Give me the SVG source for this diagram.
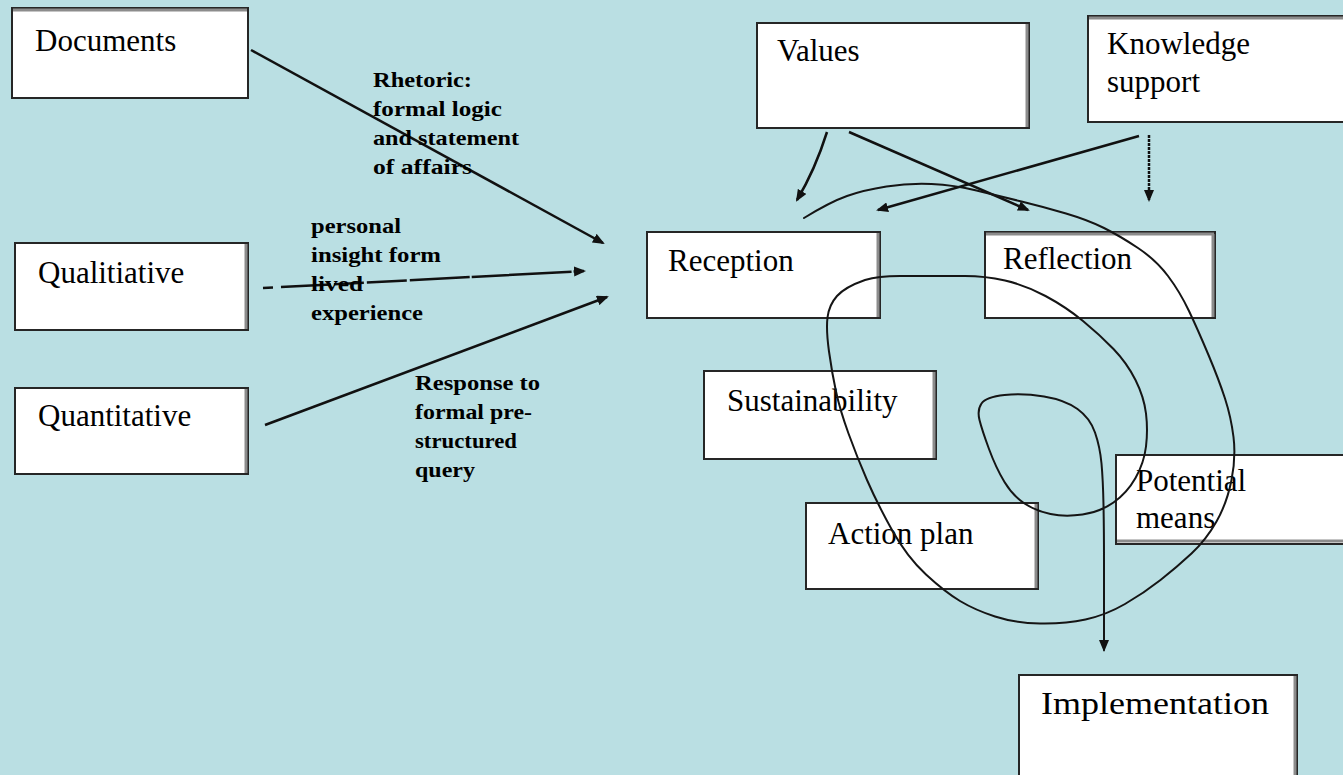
<svg xmlns="http://www.w3.org/2000/svg" width="1343" height="775" viewBox="0 0 1343 775">
  <style>
    .box { fill: #ffffff; stroke: #262626; stroke-width: 2; }
    .shade { stroke: #8c8c8c; stroke-width: 3; fill: none; }
    .name { font-family: "Liberation Serif", "Times New Roman", serif; font-size: 31px; fill: #000; }
    .note { font-family: "Liberation Serif", "Times New Roman", serif; font-size: 22px; font-weight: bold; fill: #000; }
    .arrow { stroke: #111; stroke-width: 2.5; fill: none; marker-end: url(#head); }
    .loop { stroke: #151515; stroke-width: 2; fill: none; stroke-linejoin: round; stroke-linecap: round; }
  </style>
  <defs>
    <marker id="head" viewBox="0 0 12 10" refX="10" refY="5" markerWidth="12" markerHeight="10" markerUnits="userSpaceOnUse" orient="auto">
      <path d="M0,0 L12,5 L0,10 Z" fill="#111"/>
    </marker>
  </defs>

  <rect width="1343" height="775" fill="#badfe3"/>

  <!-- input sources -->
  <g id="documents">
    <rect class="box" x="12" y="8" width="236" height="90"/>
    <line class="shade" x1="13" y1="10" x2="247" y2="10"/>
    <text class="name" x="35" y="51">Documents</text>
  </g>
  <g id="qualitiative">
    <rect class="box" x="15" y="243" width="233" height="87"/>
    <line class="shade" x1="246" y1="244" x2="246" y2="329"/>
    <text class="name" x="38" y="283">Qualitiative</text>
  </g>
  <g id="quantitative">
    <rect class="box" x="15" y="388" width="233" height="86"/>
    <line class="shade" x1="246" y1="389" x2="246" y2="473"/>
    <text class="name" x="38" y="426">Quantitative</text>
  </g>

  <!-- process stages -->
  <g id="values">
    <rect class="box" x="757" y="23" width="272" height="105"/>
    <line class="shade" x1="1027" y1="24" x2="1027" y2="127"/>
    <text class="name" x="777" y="61">Values</text>
  </g>
  <g id="knowledge-support">
    <rect class="box" x="1088" y="16" width="262" height="106"/>
    <line class="shade" x1="1089" y1="18" x2="1343" y2="18"/>
    <text class="name" x="1107" y="54">Knowledge</text>
    <text class="name" x="1107" y="92">support</text>
  </g>
  <g id="reception">
    <rect class="box" x="647" y="232" width="233" height="86"/>
    <line class="shade" x1="878" y1="233" x2="878" y2="317"/>
    <text class="name" x="668" y="271">Reception</text>
  </g>
  <g id="reflection">
    <rect class="box" x="985" y="232" width="230" height="86"/>
    <line class="shade" x1="986" y1="234" x2="1214" y2="234"/>
    <line class="shade" x1="1213" y1="234" x2="1213" y2="317"/>
    <text class="name" x="1003" y="269">Reflection</text>
  </g>
  <g id="sustainability">
    <rect class="box" x="704" y="371" width="232" height="88"/>
    <line class="shade" x1="934" y1="372" x2="934" y2="458"/>
    <text class="name" x="727" y="411">Sustainability</text>
  </g>
  <g id="action-plan">
    <rect class="box" x="806" y="503" width="232" height="86"/>
    <line class="shade" x1="1036" y1="504" x2="1036" y2="588"/>
    <text class="name" x="828" y="544">Action plan</text>
  </g>
  <g id="potential-means">
    <rect class="box" x="1116" y="455" width="240" height="89"/>
    <line class="shade" x1="1117" y1="541" x2="1343" y2="541"/>
    <text class="name" x="1136" y="491">Potential</text>
    <text class="name" x="1136" y="528">means</text>
  </g>
  <g id="implementation">
    <rect class="box" x="1019" y="675" width="278" height="110"/>
    <line class="shade" x1="1295" y1="676" x2="1295" y2="775"/>
    <text class="name" x="1041" y="714" textLength="228" lengthAdjust="spacingAndGlyphs">Implementation</text>
  </g>

  <!-- connectors -->
  <g id="connectors">
    <line class="arrow" x1="251" y1="50" x2="603" y2="243"/>
    <line class="arrow" x1="263" y1="288" x2="584" y2="271" stroke-dasharray="10 8 50 3 30 3 40 3 60 2 100 2 200"/>
    <line class="arrow" x1="265" y1="425" x2="607" y2="297"/>
    <path class="arrow" d="M827 132 Q815 170 797 200"/>
    <line class="arrow" x1="849" y1="132" x2="1028" y2="210"/>
    <line class="arrow" x1="1139" y1="136" x2="878" y2="210"/>
    <line class="arrow" x1="1149" y1="135" x2="1149" y2="200" stroke-dasharray="3 1"/>
    <!-- spiral through the stages, ending at implementation -->
    <path class="loop" marker-end="url(#head)" d="M804 218 Q830 202 847 196 Q864 190 886.5 186.5 Q909 183 931.5 184 Q954 185 976.5 190.5 Q999 196 1021.5 201.5 Q1044 207 1066 213.5 Q1088 220 1104 228 Q1120 236 1138 248 Q1156 260 1168 276 Q1180 292 1189 311 Q1198 330 1208.5 355 Q1219 380 1225 398.5 Q1231 417 1233.5 437 Q1236 457 1231.5 480 Q1227 503 1216.5 521.5 Q1206 540 1191.5 553.5 Q1177 567 1160.5 580 Q1144 593 1125 604 Q1106 615 1085.5 619.5 Q1065 624 1040 623.5 Q1015 623 995 616.5 Q975 610 960 601 Q945 592 926 574.5 Q907 557 892 530 Q877 503 867 480 Q857 457 848.5 433.5 Q840 410 836 391.5 Q832 373 829 351.5 Q826 330 827.5 317.5 Q829 305 837 296 Q845 287 865 280 Q878 276 900 276 L965 276 Q985 276 1005 280.5 Q1025 285 1045.5 296 Q1066 307 1083 321 Q1100 335 1113.5 349 Q1127 363 1135.5 380 Q1144 397 1146 413.5 Q1148 430 1146 446.5 Q1144 463 1135.5 478 Q1127 493 1113.5 502.5 Q1100 512 1082.5 514.5 Q1065 517 1050.5 514 Q1036 511 1024.5 503.5 Q1013 496 1004.5 482 Q996 468 989 449 Q982 430 979.5 420 Q977 410 981.5 403.5 Q986 397 1004.5 395 Q1023 393 1044 396.5 Q1065 400 1077.5 409 Q1090 418 1095 432.5 Q1100 447 1101.5 463.5 Q1103 480 1103.5 505 Q1104 530 1104 560 L1104 650"/>
  </g>

  <!-- connector labels -->
  <g id="label-documents">
    <text class="note" x="373" y="87" textLength="99" lengthAdjust="spacingAndGlyphs">Rhetoric:</text>
    <text class="note" x="373" y="116" textLength="129" lengthAdjust="spacingAndGlyphs">formal logic</text>
    <text class="note" x="373" y="145" textLength="146" lengthAdjust="spacingAndGlyphs">and statement</text>
    <text class="note" x="373" y="174" textLength="99" lengthAdjust="spacingAndGlyphs">of affairs</text>
  </g>
  <g id="label-qualitiative">
    <text class="note" x="311" y="233" textLength="90" lengthAdjust="spacingAndGlyphs">personal</text>
    <text class="note" x="311" y="262" textLength="130" lengthAdjust="spacingAndGlyphs">insight form</text>
    <text class="note" x="311" y="291" textLength="52" lengthAdjust="spacingAndGlyphs">lived</text>
    <text class="note" x="311" y="320" textLength="112" lengthAdjust="spacingAndGlyphs">experience</text>
  </g>
  <g id="label-quantitative">
    <text class="note" x="415" y="390" textLength="125" lengthAdjust="spacingAndGlyphs">Response to</text>
    <text class="note" x="415" y="419" textLength="117" lengthAdjust="spacingAndGlyphs">formal pre-</text>
    <text class="note" x="415" y="448" textLength="102" lengthAdjust="spacingAndGlyphs">structured</text>
    <text class="note" x="415" y="477" textLength="60" lengthAdjust="spacingAndGlyphs">query</text>
  </g>
</svg>
